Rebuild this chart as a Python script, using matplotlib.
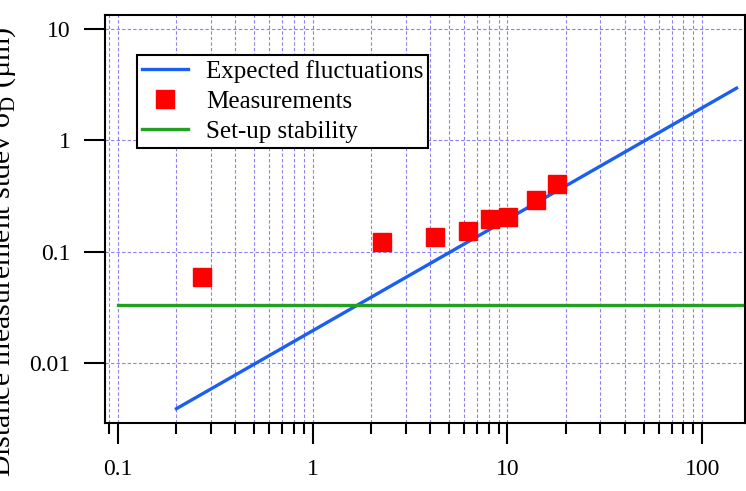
import matplotlib
matplotlib.use("Agg")
import matplotlib.pyplot as plt
from matplotlib.ticker import LogLocator, NullFormatter, FixedLocator

plt.rcParams['font.family'] = ['Liberation Serif', 'DejaVu Serif']
plt.rcParams['mathtext.fontset'] = 'custom'
plt.rcParams['mathtext.rm'] = 'Liberation Serif'

# expected fluctuations (straight line on log-log)
exp_x = [0.2, 150]
exp_y = [0.0039, 2.95]

# measurements
meas_x = [0.27, 2.26, 4.23, 6.24, 8.18, 10.1, 14.1, 18.0]
meas_y = [0.0596, 0.123, 0.136, 0.155, 0.198, 0.207, 0.294, 0.41]

# set-up stability
stab_x = [0.1, 200]
stab_y = [0.0333, 0.0333]

fig = plt.figure(figsize=(7.46, 4.91), dpi=100)
ax = fig.add_axes([0.1408, 0.1385, 0.8580, 0.8310])

ax.plot(exp_x, exp_y, '-', color='#1a5ff0', lw=2.4, label='Expected fluctuations')
ax.plot(meas_x, meas_y, 's', color='#ff0000', ms=12.5, ls='none', label='Measurements')
ax.plot(stab_x, stab_y, '-', color='#22a022', lw=2.4, label='Set-up stability')

ax.set_xscale('log')
ax.set_yscale('log')
ax.set_xlim(0.086, 166)
ax.set_ylim(0.0029, 13.4)

# ticks
ax.xaxis.set_major_locator(FixedLocator([0.1, 1, 10, 100]))
ax.xaxis.set_minor_locator(LogLocator(base=10, subs=range(2, 10), numticks=20))
ax.xaxis.set_minor_formatter(NullFormatter())
ax.set_xticklabels(['0.1', '1', '10', '100'])
ax.yaxis.set_major_locator(FixedLocator([0.01, 0.1, 1, 10]))
ax.yaxis.set_minor_locator(FixedLocator([]))
ax.set_yticklabels(['0.01', '0.1', '1', '10'])

ax.tick_params(axis='x', which='major', direction='out', length=15, width=1.5, pad=11, labelsize=17)
ax.tick_params(axis='x', which='minor', direction='out', length=8, width=1.5)
ax.tick_params(axis='y', which='major', direction='out', length=15, width=1.5, pad=10, labelsize=17)

for s in ax.spines.values():
    s.set_linewidth(1.5)

ax.grid(True, which='major', axis='both', color='#8a80f0', ls=(0, (3, 2)), lw=0.8)
ax.grid(True, which='minor', axis='x', color='#8a80f0', ls=(0, (3, 2)), lw=0.8)
ax.set_axisbelow(True)

ax.set_ylabel(r'Distance measurement stdev σ$_\mathrm{D}$ (µm)', fontsize=21.5)
ax.yaxis.set_label_coords(-0.136, 0.42)

leg = ax.legend(loc='upper left', bbox_to_anchor=(0.05, 0.902), borderaxespad=0,
                fontsize=18, frameon=True, fancybox=False, edgecolor='black',
                framealpha=1, handlelength=1.85, borderpad=0.2,
                labelspacing=0.3, handletextpad=0.7)
leg.get_frame().set_linewidth(1.5)

fig.savefig('out.png', dpi=100)
